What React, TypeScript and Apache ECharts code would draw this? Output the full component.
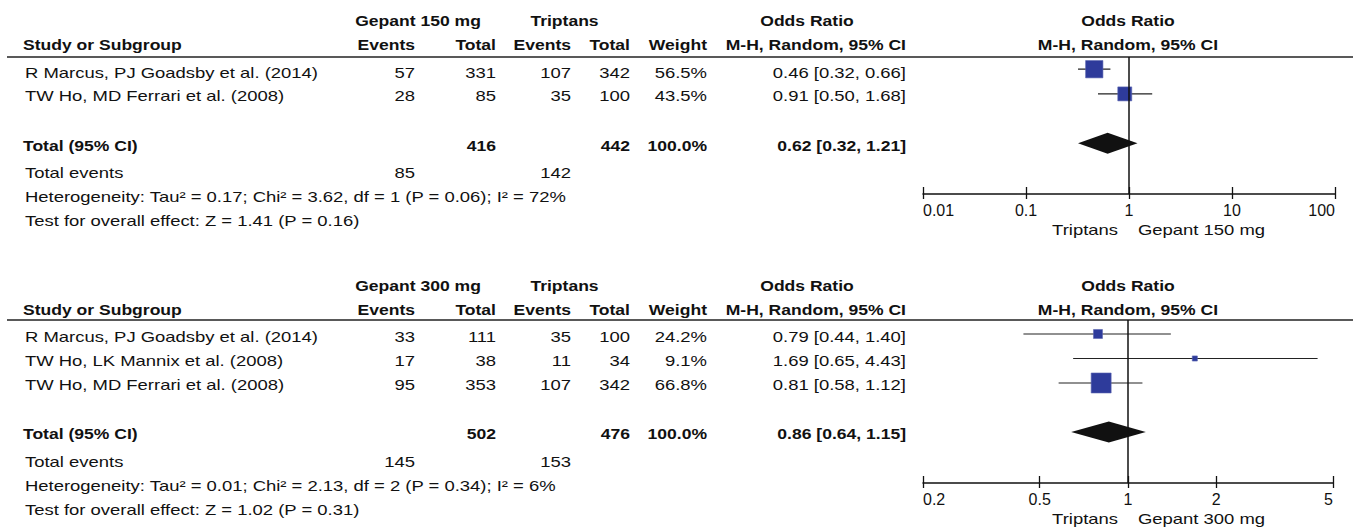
import React, { useEffect, useRef } from "react";
import * as echarts from "echarts";

// ---------- Data: Gepant 150 mg vs Triptans ----------
const studies150 = ["R Marcus, PJ Goadsby et al. (2014)", "TW Ho, MD Ferrari et al. (2008)"];
const gepEvents150 = [57, 28];
const gepTotal150 = [331, 85];
const tripEvents150 = [107, 35];
const tripTotal150 = [342, 100];
const weight150 = [56.5, 43.5];
const or150 = [0.46, 0.91];
const lo150 = [0.32, 0.5];
const hi150 = [0.66, 1.68];
const pooled150 = [0.62, 0.32, 1.21];
const sumTotals150 = [416, 442];
const sumEvents150 = [85, 142];
const het150 = "Heterogeneity: Tau\u00b2 = 0.17; Chi\u00b2 = 3.62, df = 1 (P = 0.06); I\u00b2 = 72%";
const test150 = "Test for overall effect: Z = 1.41 (P = 0.16)";
const ticks150 = [0.01, 0.1, 1, 10, 100];

// ---------- Data: Gepant 300 mg vs Triptans ----------
const studies300 = [
  "R Marcus, PJ Goadsby et al. (2014)",
  "TW Ho, LK Mannix et al. (2008)",
  "TW Ho, MD Ferrari et al. (2008)",
];
const gepEvents300 = [33, 17, 95];
const gepTotal300 = [111, 38, 353];
const tripEvents300 = [35, 11, 107];
const tripTotal300 = [100, 34, 342];
const weight300 = [24.2, 9.1, 66.8];
const or300 = [0.79, 1.69, 0.81];
const lo300 = [0.44, 0.65, 0.58];
const hi300 = [1.4, 4.43, 1.12];
const pooled300 = [0.86, 0.64, 1.15];
const sumTotals300 = [502, 476];
const sumEvents300 = [145, 153];
const het300 = "Heterogeneity: Tau\u00b2 = 0.01; Chi\u00b2 = 2.13, df = 2 (P = 0.34); I\u00b2 = 6%";
const test300 = "Test for overall effect: Z = 1.02 (P = 0.31)";
const ticks300 = [0.2, 0.5, 1, 2, 5];

// ---------- Styling ----------
const FONT = "'Liberation Sans', Arial, Helvetica, sans-serif";
const REG_SCALE = 1.23;
const BOLD_SCALE = 1.17;
const TXT = "#111";
const BLUE = "#2E3B9B";

const COL = { ev1: 415, tot1: 496, ev2: 571, tot2: 630, wt: 707, ci: 906 };

function txt(text: string, x: number, y: number, align: string, bold = false) {
  return {
    type: "text",
    x,
    y,
    scaleX: bold ? BOLD_SCALE : REG_SCALE,
    silent: true,
    style: {
      text,
      fontSize: 15,
      fontFamily: FONT,
      fontWeight: bold ? "bold" : "normal",
      fill: TXT,
      align,
      verticalAlign: "middle",
    },
  };
}

const fmtCI = (o: number, l: number, h: number) => `${o.toFixed(2)} [${l.toFixed(2)}, ${h.toFixed(2)}]`;

interface PanelCfg {
  groupName: string;
  studies: string[];
  gE: number[];
  gT: number[];
  tE: number[];
  tT: number[];
  w: number[];
  or: number[];
  lo: number[];
  hi: number[];
  pooled: number[];
  totals: number[];
  events: number[];
  het: string;
  test: string;
  y: { h1: number; h2: number; line: number; row0: number; step: number; total: number; ev: number; het: number; test: number; bottom: number };
}

function panelGraphics(c: PanelCfg) {
  const els: any[] = [];
  const y = c.y;
  els.push(txt(c.groupName, 418, y.h1, "center", true));
  els.push(txt("Triptans", 564.5, y.h1, "center", true));
  els.push(txt("Odds Ratio", 807, y.h1, "center", true));
  els.push(txt("Odds Ratio", 1128, y.h1, "center", true));
  els.push(txt("Study or Subgroup", 23, y.h2, "left", true));
  els.push(txt("Events", COL.ev1, y.h2, "right", true));
  els.push(txt("Total", COL.tot1, y.h2, "right", true));
  els.push(txt("Events", COL.ev2, y.h2, "right", true));
  els.push(txt("Total", COL.tot2, y.h2, "right", true));
  els.push(txt("Weight", COL.wt, y.h2, "right", true));
  els.push(txt("M-H, Random, 95% CI", COL.ci, y.h2, "right", true));
  els.push(txt("M-H, Random, 95% CI", 1128, y.h2, "center", true));
  els.push({
    type: "line",
    silent: true,
    shape: { x1: 7, y1: y.line, x2: 1353, y2: y.line },
    style: { stroke: "#222", lineWidth: 1.6 },
  });
  c.studies.forEach((s, i) => {
    const yy = y.row0 + i * y.step;
    els.push(txt(s, 25, yy, "left"));
    els.push(txt(String(c.gE[i]), COL.ev1, yy, "right"));
    els.push(txt(String(c.gT[i]), COL.tot1, yy, "right"));
    els.push(txt(String(c.tE[i]), COL.ev2, yy, "right"));
    els.push(txt(String(c.tT[i]), COL.tot2, yy, "right"));
    els.push(txt(c.w[i].toFixed(1) + "%", COL.wt, yy, "right"));
    els.push(txt(fmtCI(c.or[i], c.lo[i], c.hi[i]), COL.ci, yy, "right"));
  });
  els.push(txt("Total (95% CI)", 23, y.total, "left", true));
  els.push(txt(String(c.totals[0]), COL.tot1, y.total, "right", true));
  els.push(txt(String(c.totals[1]), COL.tot2, y.total, "right", true));
  els.push(txt("100.0%", COL.wt, y.total, "right", true));
  els.push(txt(fmtCI(c.pooled[0], c.pooled[1], c.pooled[2]), COL.ci, y.total, "right", true));
  els.push(txt("Total events", 25, y.ev, "left"));
  els.push(txt(String(c.events[0]), COL.ev1, y.ev, "right"));
  els.push(txt(String(c.events[1]), COL.ev2, y.ev, "right"));
  els.push(txt(c.het, 25, y.het, "left"));
  els.push(txt(c.test, 25, y.test, "left"));
  els.push(txt("Triptans", 1118, y.bottom, "right"));
  els.push(txt(c.groupName, 1138, y.bottom, "left"));
  return els;
}

function studyRenderer(params: any, api: any) {
  const o = api.value(0);
  const l = api.value(1);
  const h = api.value(2);
  const r = api.value(3);
  const w = api.value(4);
  const c = api.coord([o, r]);
  const pl = api.coord([l, r]);
  const ph = api.coord([h, r]);
  const s = 2.75 + 0.258 * w;
  return {
    type: "group",
    children: [
      { type: "line", shape: { x1: pl[0], y1: pl[1], x2: ph[0], y2: ph[1] }, style: { stroke: "#222", lineWidth: 1.2 } },
      { type: "rect", shape: { x: c[0] - s / 2, y: c[1] - s / 2, width: s, height: s }, style: { fill: BLUE, stroke: "#5a64b0", lineWidth: 0.6 } },
    ],
  };
}

function diamondRenderer(params: any, api: any) {
  const o = api.value(0);
  const l = api.value(1);
  const h = api.value(2);
  const r = api.value(3);
  const c = api.coord([o, r]);
  const pl = api.coord([l, r]);
  const ph = api.coord([h, r]);
  const hh = 10.5;
  return {
    type: "polygon",
    shape: { points: [[pl[0], pl[1]], [c[0], c[1] - hh], [ph[0], ph[1]], [c[0], c[1] + hh]] },
    style: { fill: "#111" },
  };
}

function nearestLabel(v: number, ticks: number[]) {
  let best = ticks[0];
  for (const t of ticks) if (Math.abs(Math.log(t) - Math.log(v)) < Math.abs(Math.log(best) - Math.log(v))) best = t;
  return String(best);
}

function mainXAxis(gridIndex: number, ticks: number[]) {
  return {
    type: "log",
    logBase: 10,
    gridIndex,
    min: ticks[0],
    max: ticks[ticks.length - 1],
    position: "bottom",
    axisLine: { show: true, onZero: false, lineStyle: { color: "#111", width: 1.5 } },
    axisTick: { show: true, inside: true, length: 7, customValues: ticks, lineStyle: { color: "#111", width: 1.3 } },
    axisLabel: {
      show: true,
      customValues: ticks,
      fontSize: 16,
      fontFamily: FONT,
      color: TXT,
      margin: 8,
      alignMinLabel: "left",
      alignMaxLabel: "right",
      formatter: (v: number) => nearestLabel(v, ticks),
    },
    splitLine: { show: false },
  };
}

// companion axis in a thin grid whose bottom edge coincides with the main axis: only the downward tick stubs
function stubXAxis(gridIndex: number, ticks: number[]) {
  return {
    type: "log",
    logBase: 10,
    gridIndex,
    min: ticks[0],
    max: ticks[ticks.length - 1],
    position: "bottom",
    axisLine: { show: false, onZero: false },
    axisTick: { show: true, inside: false, length: 5, customValues: ticks, lineStyle: { color: "#111", width: 1.3 } },
    axisLabel: { show: false },
    splitLine: { show: false },
  };
}

const vLine = {
  silent: true,
  symbol: "none",
  label: { show: false },
  lineStyle: { color: "#111", width: 1.5, type: "solid" },
  data: [{ xAxis: 1 }],
};

export default function App() {
  const ref = useRef<HTMLDivElement>(null);
  useEffect(() => {
    if (!ref.current) return;
    const chart = echarts.init(ref.current, undefined, { renderer: "svg" });
    const p1: PanelCfg = {
      groupName: "Gepant 150 mg",
      studies: studies150,
      gE: gepEvents150,
      gT: gepTotal150,
      tE: tripEvents150,
      tT: tripTotal150,
      w: weight150,
      or: or150,
      lo: lo150,
      hi: hi150,
      pooled: pooled150,
      totals: sumTotals150,
      events: sumEvents150,
      het: het150,
      test: test150,
      y: { h1: 20, h2: 44, line: 57, row0: 73, step: 23.5, total: 145, ev: 173, het: 197, test: 221, bottom: 230 },
    };
    const p2: PanelCfg = {
      groupName: "Gepant 300 mg",
      studies: studies300,
      gE: gepEvents300,
      gT: gepTotal300,
      tE: tripEvents300,
      tT: tripTotal300,
      w: weight300,
      or: or300,
      lo: lo300,
      hi: hi300,
      pooled: pooled300,
      totals: sumTotals300,
      events: sumEvents300,
      het: het300,
      test: test300,
      y: { h1: 285, h2: 309, line: 320, row0: 337, step: 24, total: 433, ev: 462, het: 486, test: 510, bottom: 519 },
    };

    const data150 = or150.map((v, i) => [v, lo150[i], hi150[i], i, weight150[i]]);
    const data300 = or300.map((v, i) => [v, lo300[i], hi300[i], i, weight300[i]]);
    const dia150 = [[pooled150[0], pooled150[1], pooled150[2], studies150.length + 1]];
    const dia300 = [[pooled300[0], pooled300[1], pooled300[2], studies300.length + 1]];

    chart.setOption({
      animation: false,
      backgroundColor: "#fff",
      textStyle: { fontFamily: FONT },
      grid: [
        { left: 923, right: 18, top: 57, height: 137, containLabel: false },
        { left: 923, right: 20, top: 320, height: 163, containLabel: false },
        { left: 923, right: 18, top: 190, height: 4, containLabel: false },
        { left: 923, right: 20, top: 479, height: 4, containLabel: false },
      ],
      xAxis: [mainXAxis(0, ticks150), mainXAxis(1, ticks300), stubXAxis(2, ticks150), stubXAxis(3, ticks300)],
      yAxis: [
        { type: "value", gridIndex: 0, inverse: true, min: -0.494, max: 5.053, show: false },
        { type: "value", gridIndex: 1, inverse: true, min: -0.571, max: 6.082, show: false },
        { type: "value", gridIndex: 2, min: 0, max: 1, show: false },
        { type: "value", gridIndex: 3, min: 0, max: 1, show: false },
      ],
      series: [
        {
          type: "custom",
          xAxisIndex: 0,
          yAxisIndex: 0,
          renderItem: studyRenderer,
          encode: { x: [0, 1, 2], y: 3 },
          data: data150,
          markLine: vLine,
          silent: true,
        },
        {
          type: "custom",
          xAxisIndex: 0,
          yAxisIndex: 0,
          renderItem: diamondRenderer,
          encode: { x: [0, 1, 2], y: 3 },
          data: dia150,
          silent: true,
        },
        {
          type: "custom",
          xAxisIndex: 1,
          yAxisIndex: 1,
          renderItem: studyRenderer,
          encode: { x: [0, 1, 2], y: 3 },
          data: data300,
          markLine: vLine,
          silent: true,
        },
        {
          type: "custom",
          xAxisIndex: 1,
          yAxisIndex: 1,
          renderItem: diamondRenderer,
          encode: { x: [0, 1, 2], y: 3 },
          data: dia300,
          silent: true,
        },
      ],
      graphic: [...panelGraphics(p1), ...panelGraphics(p2)],
    });
    return () => chart.dispose();
  }, []);
  return (
    <div
      ref={ref}
      style={{ position: "absolute", left: 0, top: 0, width: 1353, height: 529, background: "#fff" }}
    />
  );
}
